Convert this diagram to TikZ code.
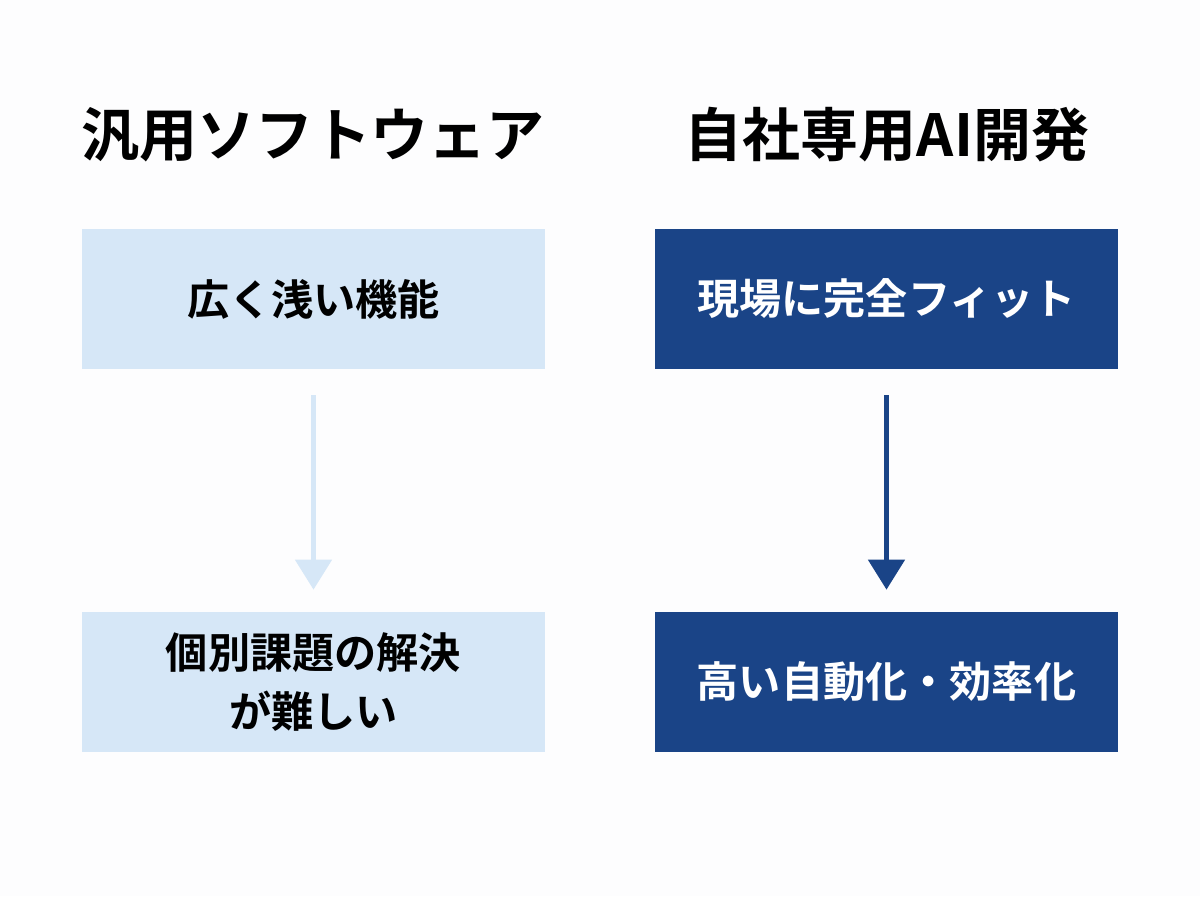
\documentclass[tikz,border=0pt]{standalone}
\usepackage{fontspec}
\setmainfont{Noto Sans CJK JP}
\newfontfamily\cjkbold{Noto Sans CJK JP Bold}
\usetikzlibrary{arrows.meta,positioning,calc}
\definecolor{paleblue}{HTML}{D6E7F7}
\definecolor{deepblue}{HTML}{1A4487}
\definecolor{bgcol}{HTML}{FDFDFE}
\tikzset{
  box/.style={minimum width=9.26cm,minimum height=2.8cm,inner sep=0pt,align=center,font=\cjkbold\fontsize{24}{34}\selectfont},
  softbox/.style={box,fill=paleblue,text=black},
  aibox/.style={box,fill=deepblue,text=white},
  title/.style={font=\cjkbold\fontsize{33}{38}\selectfont},
  flow/.style={line width=2.8pt,-{Triangle[width=0.72cm,length=0.6cm]}}
}
\begin{document}
\begin{tikzpicture}[x=0.02cm,y=-0.02cm]
          \fill[bgcol] (0,0) rectangle (1200,896);
          \useasboundingbox (0,0) rectangle (1200,896);
          \node[title] at (313,135) (t1) {汎用ソフトウェア};
          \node[title] at (887,135) (t2) {自社専用AI開発};

          \node[softbox] at (313.5,299) (s1) {広く浅い機能};
          \node[softbox] at (313.5,682) (s2) {個別課題の解決\\が難しい};
          \node[aibox] at (886.5,299) (a1) {現場に完全フィット};
          \node[aibox] at (886.5,682) (a2) {高い自動化・効率化};

          \draw[flow,paleblue] ($(s1.south)+(0,26)$) -- ($(s2.north)+(0,-22)$);
          \draw[flow,deepblue] ($(a1.south)+(0,26)$) -- ($(a2.north)+(0,-22)$);
        \end{tikzpicture}
\end{document}
